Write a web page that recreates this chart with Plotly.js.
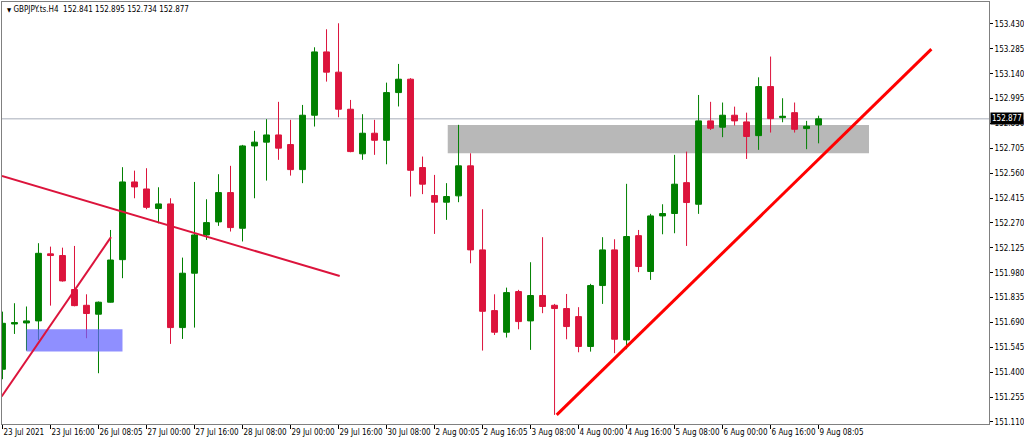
<!DOCTYPE html>
<html><head><meta charset="utf-8">
<script src="https://cdn.plot.ly/plotly-3.0.1.min.js"></script>
<style>html,body{margin:0;padding:0;background:#fff}#c{width:1024px;height:440px}</style>
</head><body><div id="c"></div>
<script>
const opens  = [151.417,151.681,151.687,151.699,152.090,152.080,151.882,151.790,151.738,151.808,152.056,152.509,152.468,152.354,152.381,151.660,151.977,152.200,152.276,152.447,152.239,152.719,152.741,152.783,152.727,152.581,152.898,153.267,153.149,152.933,152.673,152.793,152.752,153.030,153.108,152.593,152.430,152.391,152.428,152.603,152.113,151.759,151.633,151.870,151.699,151.847,151.790,151.771,151.724,151.550,151.905,152.113,151.588,152.196,151.987,152.311,152.325,152.505,152.379,152.865,152.828,152.898,152.859,152.779,153.065,152.884,152.913,152.820,152.841];
const highs  = [151.753,151.802,151.783,152.152,152.132,152.126,152.136,151.854,151.812,152.229,152.595,152.575,152.589,152.478,152.414,152.068,152.509,152.408,152.554,152.603,152.725,152.807,152.875,152.976,152.871,152.958,153.294,153.399,153.434,152.987,152.904,152.871,153.088,153.197,153.114,152.657,152.550,152.502,152.842,152.676,152.350,151.854,151.893,151.880,152.041,152.187,151.798,151.856,151.779,151.915,152.187,152.175,152.498,152.229,152.323,152.379,152.667,152.686,153.016,152.976,152.972,152.948,152.913,153.119,153.240,152.997,152.972,152.865,152.895];
const lows   = [151.359,151.623,151.526,151.588,151.788,151.928,151.784,151.598,151.394,151.806,151.948,152.414,152.350,152.268,151.565,151.594,151.660,152.171,152.253,152.220,152.162,152.414,152.517,152.638,152.546,152.502,152.832,153.094,152.886,152.682,152.638,152.667,152.612,152.949,152.424,152.438,152.206,152.288,152.391,152.035,151.526,151.617,151.602,151.650,151.530,151.744,151.151,151.592,151.516,151.520,151.798,151.511,151.534,151.983,151.938,152.204,152.210,152.136,152.323,152.812,152.770,152.838,152.643,152.696,152.797,152.857,152.797,152.700,152.734];
const closes = [151.685,151.689,151.699,152.093,152.080,151.932,151.788,151.742,151.808,152.054,152.509,152.480,152.361,152.381,151.660,151.977,152.200,152.272,152.447,152.243,152.719,152.741,152.783,152.706,152.581,152.898,153.267,153.149,152.933,152.686,152.793,152.752,153.030,153.108,152.577,152.496,152.391,152.424,152.603,152.113,151.755,151.633,151.864,151.695,151.847,151.783,151.771,151.666,151.550,151.905,152.113,151.592,152.191,152.016,152.311,152.325,152.496,152.389,152.865,152.822,152.898,152.865,152.774,153.065,152.878,152.892,152.816,152.834,152.877];
const barIndex = opens.map((_, i) => i);

const timeLabels = ["23 Jul 2021","23 Jul 16:00","26 Jul 08:05","27 Jul 00:00","27 Jul 16:00","28 Jul 08:00","29 Jul 00:00","29 Jul 16:00","30 Jul 08:00","2 Aug 00:05","2 Aug 16:05","3 Aug 08:00","4 Aug 00:00","4 Aug 16:00","5 Aug 08:00","6 Aug 00:00","6 Aug 16:00","9 Aug 08:05"];
const timeTickBars = [0,4,8,12,16,20,24,28,32,36,40,44,48,52,56,60,64,68];

const priceTicks = [151.110,151.255,151.400,151.545,151.690,151.835,151.980,152.125,152.270,152.415,152.560,152.705,152.850,152.995,153.140,153.285,153.430];
const lastPrice = 152.877;

// drawn objects (bar index, price)
const downTrendX = [-0.05, 28.1];
const downTrendY = [152.544, 151.961];
const upTrendSmallX = [-0.07, 9.04];
const upTrendSmallY = [151.258, 152.187];
const upTrendX = [46.18, 77.4];
const upTrendY = [151.151, 153.283];
const blueZoneX = [2.0, 10.0];
const blueZoneY = [151.520, 151.650];
const greyZoneX = [37.1, 72.2];
const greyZoneY = [152.676, 152.841];

const font = "'DejaVu Sans Condensed', 'Liberation Sans', Arial, sans-serif";

const traces = [
  {
    type: 'candlestick', x: barIndex, open: opens, high: highs, low: lows, close: closes,
    increasing: {line: {color: '#008000', width: 1}, fillcolor: '#008000'},
    decreasing: {line: {color: '#dc143c', width: 1}, fillcolor: '#dc143c'},
    whiskerwidth: 0, hoverinfo: 'skip', showlegend: false
  },
  {
    type: 'scatter', mode: 'lines', fill: 'toself',
    x: [blueZoneX[0], blueZoneX[1], blueZoneX[1], blueZoneX[0], blueZoneX[0]],
    y: [blueZoneY[0], blueZoneY[0], blueZoneY[1], blueZoneY[1], blueZoneY[0]],
    fillcolor: 'rgba(100,100,255,0.72)', line: {width: 0}, hoverinfo: 'skip', showlegend: false
  },
  {type: 'scatter', mode: 'lines', x: downTrendX, y: downTrendY, line: {color: '#dc143c', width: 2}, hoverinfo: 'skip', showlegend: false},
  {type: 'scatter', mode: 'lines', x: upTrendSmallX, y: upTrendSmallY, line: {color: '#dc143c', width: 2}, hoverinfo: 'skip', showlegend: false},
  {type: 'scatter', mode: 'lines', x: upTrendX, y: upTrendY, line: {color: '#ff0000', width: 3}, hoverinfo: 'skip', showlegend: false}
];

const layout = {
  width: 1024, height: 440,
  margin: {l: 2, r: 35, t: 2, b: 16, pad: 0},
  paper_bgcolor: '#ffffff', plot_bgcolor: '#ffffff',
  font: {family: font, size: 8, color: '#000000'},
  showlegend: false,
  xaxis: {
    range: [-0.04, 82.2], showgrid: false, zeroline: false,
    rangeslider: {visible: false},
    tickmode: 'array', tickvals: timeTickBars, ticktext: timeLabels,
    tickangle: 0, automargin: false,
    ticks: 'outside', ticklen: 4, tickcolor: '#000000', tickwidth: 1,
    ticklabelposition: 'outside right',
    showline: true, linecolor: '#808080', linewidth: 1, mirror: true,
    tickfont: {family: font, size: 8, color: '#000000'}, fixedrange: true
  },
  yaxis: {
    side: 'right', range: [151.098, 153.558], showgrid: false, zeroline: false,
    tickmode: 'array', tickvals: priceTicks, ticktext: priceTicks.map(v => v.toFixed(3)),
    ticks: 'outside', ticklen: 3, tickcolor: '#000000', tickwidth: 1, automargin: false,
    showline: true, linecolor: '#808080', linewidth: 1, mirror: true,
    tickfont: {family: font, size: 8, color: '#000000'}, fixedrange: true
  },
  shapes: [
    {type: 'rect', xref: 'x', yref: 'y', layer: 'below', x0: greyZoneX[0], x1: greyZoneX[1], y0: greyZoneY[0], y1: greyZoneY[1], fillcolor: '#b8b8b8', line: {width: 0}},
    {type: 'line', xref: 'paper', yref: 'y', layer: 'below', x0: 0, x1: 1, y0: lastPrice, y1: lastPrice, line: {color: '#c4c8d0', width: 1.5}}
  ],
  annotations: [
    {xref: 'paper', yref: 'paper', x: 0.003, y: 0.998, xanchor: 'left', yanchor: 'top', showarrow: false,
     text: '<span style="font-size:6px">▼</span> GBPJPY.ts.H4  152.841 152.895 152.734 152.877',
     font: {family: font, size: 8, color: '#000000'}},
    {xref: 'paper', yref: 'y', x: 1.0015, y: lastPrice, xanchor: 'left', yanchor: 'middle', showarrow: false,
     text: lastPrice.toFixed(3), bgcolor: '#000000', borderpad: 1,
     font: {family: font, size: 8, color: '#ffffff'}}
  ]
};

Plotly.newPlot('c', traces, layout, {displayModeBar: false, staticPlot: true});
</script>
</body></html>
